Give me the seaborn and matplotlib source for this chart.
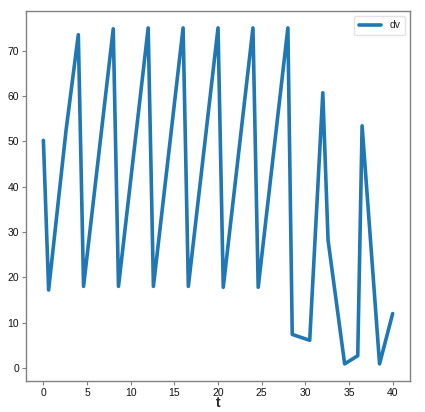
import pandas as pd
import seaborn as sns
import matplotlib.pyplot as plt

t = [0, 0.6, 2.6, 4.0, 4.6, 8.0, 8.6, 12.0, 12.6, 16.0, 16.6, 20.0, 20.6,
     24.0, 24.6, 28.0, 28.5, 30.5, 32.0, 32.6, 34.5, 36.0, 36.5, 38.5, 40.0]
dv = [50.2, 17.2, 52.5, 73.5, 18.0, 74.8, 18.0, 75.0, 18.0, 75.0, 18.0, 75.0, 17.8,
      75.0, 17.8, 75.0, 7.4, 6.1, 60.7, 28.2, 0.9, 2.7, 53.4, 0.9, 12.0]

df = pd.DataFrame({'t': t, 'dv': dv})

sns.set_style('ticks')
plt.rcParams['font.family'] = ['Liberation Sans', 'DejaVu Sans']

fig = plt.figure(figsize=(4.25, 4.12), dpi=100)
ax = fig.add_axes([0.061, 0.076, 0.904, 0.897])
sns.lineplot(data=df, x='t', y='dv', ax=ax, linewidth=2.6, color='#1f77b4',
             label='dv', sort=False)

for s in ax.spines.values():
    s.set_color('#808080')
    s.set_linewidth(1.0)
ax.tick_params(labelsize=7.5, length=3, width=0.8, color='#808080', pad=2,
               labelcolor='#111111')
ax.set_xticks([0, 5, 10, 15, 20, 25, 30, 35, 40])
ax.set_yticks([0, 10, 20, 30, 40, 50, 60, 70])
ax.set_xlabel('t', fontsize=10, fontweight='bold', labelpad=-1)
ax.set_ylabel('')
leg = ax.legend(loc='upper right', fontsize=7.5, handlelength=2.2, frameon=True)
leg.get_frame().set_edgecolor('#dddddd')

fig.savefig('out.png', dpi=100)
